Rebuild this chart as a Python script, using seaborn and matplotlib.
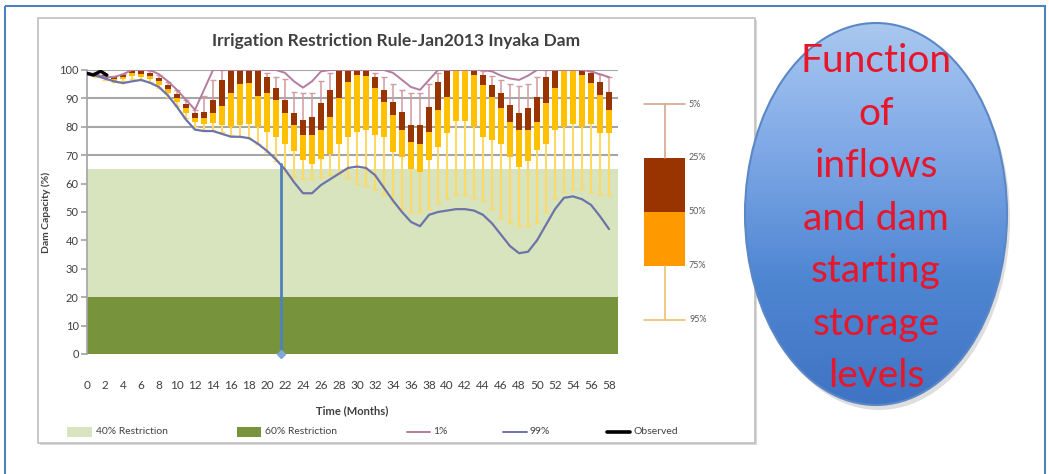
import numpy as np
import matplotlib
matplotlib.use("Agg")
import matplotlib.pyplot as plt
import seaborn as sns
from matplotlib.patches import Ellipse, Rectangle
from matplotlib.colors import LinearSegmentedColormap

# ---- data ----
months = list(range(59))
line_1pct = [99, 98.5, 97.5, 97.5, 98.5, 100, 100, 100, 98.5, 96, 93, 89.5, 86, 93, 100,
             100, 100, 100, 100, 100, 100, 100, 99, 96, 93.8, 96, 99.5, 100, 100, 100,
             100, 100, 100, 100, 99, 96.5, 94, 93, 96.5, 100, 100, 100, 100, 100, 100,
             99.5, 98, 97, 96.5, 98, 100, 100, 100, 100, 100, 100, 99.5, 98.5, 97.5]
line_99pct = [99, 98, 97, 96, 95.4, 96, 96.5, 95.5, 94, 91, 87, 82.5, 79, 78.5, 78.5,
              77.5, 76.5, 76.5, 76, 74, 71.5, 68.5, 65, 60.5, 56.6, 56.6, 59.5, 61.5, 63.5, 65.5,
              66, 65.5, 63, 58.5, 54, 50, 46.5, 45, 49, 50, 50.5, 51, 51, 50.5, 49,
              46, 42, 38, 35.5, 36, 40, 45.5, 51, 55, 55.5, 54.5, 52.5, 48.5, 44]

box_months = list(range(1, 59))
p5 = [99.3, 98.5, 97.8, 98.6, 100, 100, 99.6, 98.2, 95.8, 92.8, 89.4, 86.0, 91.0, 96.5, 100,
      100, 100, 100, 100, 99.0, 97.6, 97.0, 92.4, 91.8, 92.0, 96.0, 99.0, 100, 100, 100,
      100, 99.0, 97.5, 95.0, 93.0, 92.0, 92.0, 95.0, 99.0, 100, 100, 100, 100, 99.5, 98.0,
      96.5, 95.0, 94.5, 95.0, 97.5, 100, 100, 100, 100, 100, 99.5, 98.5, 97.5]
p25 = [99.0, 98.2, 97.4, 98.2, 99.6, 99.5, 98.9, 97.2, 94.6, 91.6, 88.2, 84.8, 85.3, 89.4, 96.5,
       100, 100, 100, 100, 97.7, 93.5, 89.4, 84.7, 82.4, 83.6, 88.3, 93.0, 100, 100, 100,
       100, 97.7, 93.0, 88.8, 85.3, 80.6, 80.6, 87.0, 95.9, 100, 100, 100, 100, 98.2, 94.7,
       91.8, 87.7, 84.7, 86.5, 90.6, 97.7, 100, 100, 100, 100, 98.8, 95.9, 92.4]
p50 = [98.5, 97.6, 96.8, 97.5, 98.8, 98.6, 97.8, 96.0, 93.3, 90.2, 86.6, 83.2, 83.0, 84.7, 87.5,
       91.8, 95.0, 95.3, 91.0, 91.8, 89.4, 84.7, 80.6, 77.0, 77.0, 79.0, 83.6, 90.3, 95.9, 98.2,
       98.0, 93.5, 88.8, 84.0, 78.9, 74.8, 74.0, 78.3, 86.0, 90.6, 100, 100, 98.2, 94.7, 90.6,
       86.5, 81.8, 78.9, 78.9, 81.8, 88.3, 93.5, 100, 100, 98.2, 95.3, 91.2, 86.0]
p75 = [98.0, 97.0, 96.2, 96.8, 97.9, 97.6, 96.7, 94.7, 91.9, 88.6, 84.8, 81.6, 81.0, 81.5, 80.5,
       80.0, 80.5, 81.0, 80.0, 78.0, 76.5, 74.0, 71.5, 68.3, 67.0, 68.5, 70.5, 74.0, 76.5, 78.0,
       79.0, 77.0, 76.5, 71.0, 69.5, 65.0, 64.0, 68.3, 73.0, 77.7, 82.0, 82.0, 80.0, 76.5, 75.4,
       74.0, 69.5, 66.0, 68.0, 71.8, 74.0, 79.0, 80.0, 81.0, 80.0, 81.0, 77.7, 77.7]
p95 = [97.6, 96.5, 95.6, 96.0, 97.0, 96.6, 95.6, 93.6, 90.6, 87.2, 83.2, 80.0, 79.0, 78.8, 78.0,
       77.0, 76.5, 76.0, 74.0, 71.0, 68.0, 64.0, 62.5, 61.5, 61.5, 62.5, 63.0, 63.5, 62.0, 60.0,
       59.0, 58.0, 56.0, 53.0, 51.0, 50.0, 50.0, 51.0, 53.0, 55.0, 56.0, 56.0, 55.0, 54.0, 51.0,
       48.0, 46.0, 45.0, 45.0, 46.0, 50.0, 55.0, 57.0, 58.0, 58.0, 57.0, 56.0, 56.0]

obs_months = [0, 0.7, 1.5, 2.2]
obs_values = [98.8, 98.2, 99.6, 98.2]

restrict_40 = (20, 65)
restrict_60 = (0, 20)
trigger_month = 21.5
trigger_level = 67

legend_levels = ["5%", "25%", "50%", "75%", "95%"]
bubble_lines = ["Function", "of", "inflows", "and dam", "starting", "storage", "levels"]

# ---- colours ----
DARK = "#993300"
YELLOW = "#FFC000"
ORANGE = "#FF9900"
UP_WHISK = "#D29AA0"
LO_WHISK = "#FFD966"
C1 = "#B47C9E"
C99 = "#6E74A8"
LIGHT_G = "#D7E4BD"
DARK_G = "#77933C"

sns.set_theme(style="white")
plt.rcParams["font.family"] = ["Lato", "DejaVu Sans"]

fig = plt.figure(figsize=(10.49, 4.74), dpi=100)

# background canvas in pixel coordinates
bg = fig.add_axes([0, 0, 1, 1], zorder=0)
bg.set_xlim(0, 1049)
bg.set_ylim(474, 0)
bg.axis("off")
bg.add_patch(Rectangle((5, 6), 1040, 480, fill=False, ec="#4F81BD", lw=1.5))
bg.add_patch(Rectangle((40, 20), 717, 425, fc="#D9D9D9", ec="none"))  # shadow
bg.add_patch(Rectangle((38, 18), 717, 425, fc="white", ec="#BFBFBF", lw=1.2))
bg.text(396, 41, "Irrigation Restriction Rule-Jan2013 Inyaka Dam", ha="center", va="center",
        fontsize=12.5, fontweight="bold", color="#404040")

# ---- main plot ----
ax = fig.add_axes([87 / 1049, 1 - 354 / 474, 531 / 1049, 284 / 474], zorder=2)
ax.patch.set_alpha(0)
ax.axhspan(*restrict_40, color=LIGHT_G, zorder=1, lw=0)
ax.axhspan(*restrict_60, color=DARK_G, zorder=1, lw=0)

bm = np.array(box_months)
ax.vlines(bm, p25, p5, color=UP_WHISK, lw=1.1, zorder=3)
ax.hlines(p5, bm - 0.3, bm + 0.3, color=UP_WHISK, lw=1, zorder=3)
ax.vlines(bm, p95, p75, color=LO_WHISK, lw=1.5, zorder=3)
ax.hlines(p95, bm - 0.3, bm + 0.3, color=LO_WHISK, lw=1, zorder=3)
ax.bar(bm, np.subtract(p25, p50), bottom=p50, width=0.6, color=DARK, lw=0, zorder=4)
ax.bar(bm, np.subtract(p50, p75), bottom=p75, width=0.6, color=YELLOW, lw=0, zorder=4)

sns.lineplot(x=months, y=line_1pct, color=C1, lw=1.4, ax=ax, zorder=5)
sns.lineplot(x=months, y=line_99pct, color=C99, lw=1.6, ax=ax, zorder=5)
sns.lineplot(x=obs_months, y=obs_values, color="black", lw=2.4, ax=ax, zorder=6)
ax.plot([trigger_month, trigger_month], [trigger_level, 0], color="#4F81BD", lw=2, zorder=6)
ax.plot([trigger_month], [0], marker="D", ms=4, color="#7FA7D8", zorder=7, clip_on=False)

ax.set_xlim(0, 59)
ax.set_ylim(0, 100)
ax.set_yticks(range(0, 101, 10))
ax.set_xticks(range(0, 59, 2))
ax.yaxis.grid(True, color="#A6A6A6", lw=1.5, zorder=0)
ax.set_axisbelow(True)
for s in ["top", "right", "bottom"]:
    ax.spines[s].set_visible(False)
ax.spines["left"].set_color("#A6A6A6")
ax.tick_params(axis="y", left=True, length=4, color="#A6A6A6", labelsize=8, labelcolor="#404040", pad=2)
ax.tick_params(axis="x", bottom=False, length=0, labelsize=8.5, labelcolor="#404040", pad=19)
ax.set_xlabel("Time (Months)", fontsize=8, fontweight="bold", color="#404040")
ax.set_ylabel("Dam Capacity (%)", fontsize=7.5, fontweight="bold", color="#404040")
ax.xaxis.set_label_coords(0.5, -0.18)
ax.yaxis.set_label_coords(-0.068, 0.5)

# ---- series legend (bottom of panel) ----
ly = 432
bg.add_patch(Rectangle((67, ly - 5), 25, 10, fc=LIGHT_G, ec="none"))
bg.text(96, ly, "40% Restriction", va="center", fontsize=7.5, color="#404040")
bg.add_patch(Rectangle((237, ly - 5), 24, 10, fc=DARK_G, ec="none"))
bg.text(265, ly, "60% Restriction", va="center", fontsize=7.5, color="#404040")
bg.plot([407, 430], [ly, ly], color=C1, lw=1.4)
bg.text(433, ly, "1%", va="center", fontsize=7.5, color="#404040")
bg.plot([503, 527], [ly, ly], color=C99, lw=1.4)
bg.text(530, ly, "99%", va="center", fontsize=7.5, color="#404040")
bg.plot([607, 630], [ly, ly], color="black", lw=2.6)
bg.text(633, ly, "Observed", va="center", fontsize=7.5, color="#404040")

# ---- percentile key ----
ky = np.linspace(104, 320, len(legend_levels))
kx0, kx1 = 644, 685
kxc = (kx0 + kx1) / 2
bg.plot([kxc, kxc], [ky[0], ky[1]], color="#D6A58E", lw=1.2)
bg.plot([kx0, kx1], [ky[0], ky[0]], color="#D6A58E", lw=1.2)
bg.plot([kxc, kxc], [ky[3], ky[4]], color="#F0C070", lw=1.2)
bg.plot([kx0, kx1], [ky[4], ky[4]], color="#F0C070", lw=1.2)
bg.add_patch(Rectangle((kx0, ky[1]), kx1 - kx0, ky[2] - ky[1], fc=DARK, ec="none"))
bg.add_patch(Rectangle((kx0, ky[2]), kx1 - kx0, ky[3] - ky[2], fc=ORANGE, ec="none"))
for yy, lab in zip(ky, legend_levels):
    bg.text(689, yy, lab, va="center", fontsize=6.5, color="#595959")

# ---- bubble ----
ex, ey, ew, eh = 876, 214, 262, 382
cmap = LinearSegmentedColormap.from_list("bub", ["#A9C8F0", "#7EA8E6", "#4F86D2", "#3F74C4"])
grad = np.linspace(0, 1, 256).reshape(-1, 1)
bg.add_patch(Ellipse((ex + 3, ey + 5), ew, eh, fc="#C9C9C9", ec="none", alpha=0.6, zorder=1))
ell = Ellipse((ex, ey), ew, eh, fc="none", ec="#5B87C6", lw=1.5, zorder=3)
bg.add_patch(ell)
im = bg.imshow(grad, cmap=cmap, extent=(ex - ew / 2, ex + ew / 2, ey + eh / 2, ey - eh / 2),
               aspect="auto", zorder=2, origin="upper")
im.set_clip_path(ell)
bg.set_xlim(0, 1049)
bg.set_ylim(474, 0)
for i, word in enumerate(bubble_lines):
    bg.text(ex, 72 + i * 52.5, word, ha="center", va="baseline", fontsize=28,
            color="#E8162A", zorder=4)

fig.savefig("out.png", dpi=100)
